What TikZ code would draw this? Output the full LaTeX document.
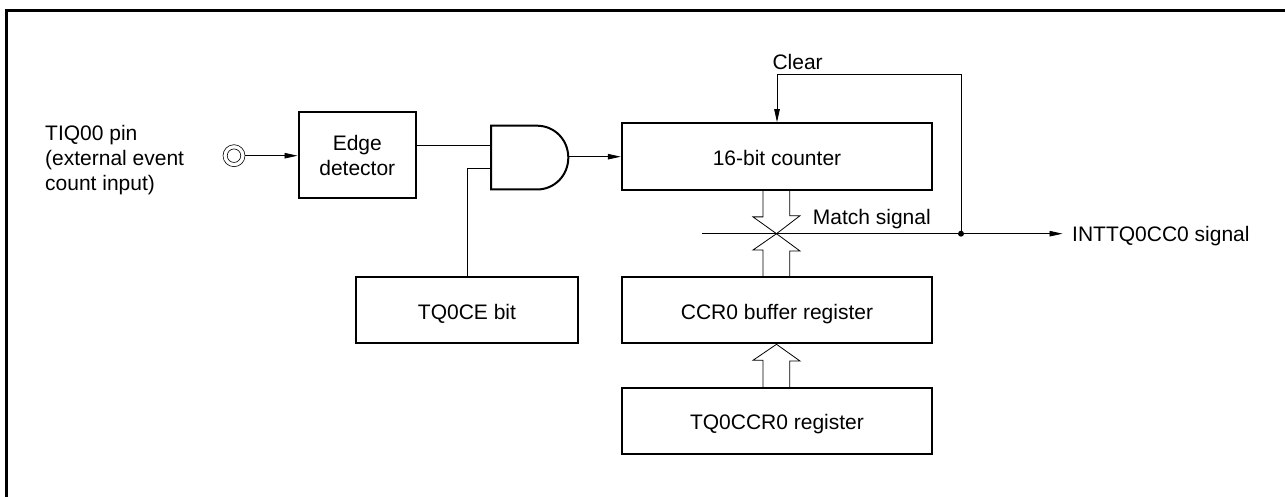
\documentclass[tikz,border=0pt]{standalone}
\usepackage{fontspec}
\setmainfont{Liberation Sans}
\usetikzlibrary{arrows.meta,calc}
\tikzset{
  x=1pt,y=-1pt,
  blockbox/.style={draw=black,line width=2pt,fill=white,inner sep=0pt,font=\fontsize{21}{25}\selectfont,align=center},
  oneline/.style={text height=18pt,text depth=0.6pt},
  wire/.style={draw=black,line width=0.8pt},
  sig/.style={wire,-{Triangle[length=13pt,width=5.5pt]}},
  lbl/.style={inner sep=0pt,font=\fontsize{21}{25}\selectfont,align=left},
  bus/.style={draw=black,line width=0.8pt,line join=miter},
  pinring/.style={draw=black,circle,line width=0.6pt,inner sep=0pt},
  dotmark/.style={fill=black,circle,inner sep=0pt,minimum size=6pt},
}
\begin{document}
\begin{tikzpicture}
\useasboundingbox (0,0) rectangle (1285,497);
\draw[line width=3pt] (6.5,497) -- (6.5,10.5) -- (1285,10.5);
\node[lbl,anchor=north west] (pin) at (45,125) {TIQ00 pin\\(external event\\count input)};
\node[pinring,minimum size=22pt] (pinO) at (234,155.7) {};
\node[pinring,minimum size=13.5pt] (pinI) at (234,155.7) {};
\node[blockbox,minimum width=117.5pt,minimum height=86pt] (edge) at (357.3,154.7) {\rule{0pt}{17pt}Edge\\detector};
\node[blockbox,oneline,minimum width=310.5pt,minimum height=67pt] (cnt) at (777,156.7) {16-bit counter};
\node[blockbox,oneline,minimum width=222pt,minimum height=66pt] (tqce) at (467,310.3) {TQ0CE bit};
\node[blockbox,oneline,minimum width=310.5pt,minimum height=66pt] (ccr) at (777,310.3) {CCR0 buffer register};
\node[blockbox,oneline,minimum width=310.5pt,minimum height=66pt] (tq) at (777,421) {TQ0CCR0 register};
% AND gate
\draw[line width=2pt,line join=miter] (491,125.7) -- (537,125.7) .. controls (554.7,125.7) and (568.3,140) .. (568.3,157.6) .. controls (568.3,175.2) and (554.7,189.5) .. (537,189.5) -- (491,189.5) -- cycle;
\coordinate (andA) at (490,145);
\coordinate (andB) at (490,168.3);
\coordinate (andOut) at (569.3,156.7);
% connectors
\draw[sig] (pinO.east) -- (edge.west |- pinO.east);
\draw[wire] (edge.east |- andA) -- (andA);
\draw[wire] (tqce.north) -- (tqce.north |- andB) -- (andB);
\draw[sig] (andOut) -- (cnt.west |- andOut);
% match line
\coordinate (mLeft) at (702,233.7);
\coordinate (mRight) at (1062.5,233.7);
\coordinate (clearCorner) at (961,74.3);
\node[dotmark] (jn) at (961,233.7) {};
\draw[sig] (mLeft) -- (mRight);
\draw[wire] (jn.center) -- (clearCorner) -- (cnt.north |- clearCorner);
\draw[sig] (cnt.north |- clearCorner) -- (cnt.north);
% buses
\draw[bus] ($(cnt.south)+(-14,0)$) -- ++(0,25.7) -- ++(-10,0) -- (776.5,233.7) -- (800,215.7) -- ++(-10.3,0) -- ($(cnt.south)+(12.7,0)$);
\draw[bus] ($(ccr.north)+(-14,0)$) -- ++(0,-26.3) -- ++(-10,0) -- (776.5,233.7) -- (800,251) -- ++(-10.3,0) -- ($(ccr.north)+(12.7,0)$);
\draw[bus] ($(tq.north)+(-14,0)$) -- ++(0,-26.7) -- ++(-10,0) -- (776.5,344.3) -- (800,361) -- ++(-10.3,0) -- ($(tq.north)+(12.7,0)$);
% labels
\node[lbl,anchor=base west] (clr) at (772.3,69.3) {Clear};
\node[lbl,anchor=base west] (mat) at (812.7,225) {Match signal};
\node[lbl,anchor=base west] (intt) at (1072,241) {INTTQ0CC0 signal};
\end{tikzpicture}
\end{document}
